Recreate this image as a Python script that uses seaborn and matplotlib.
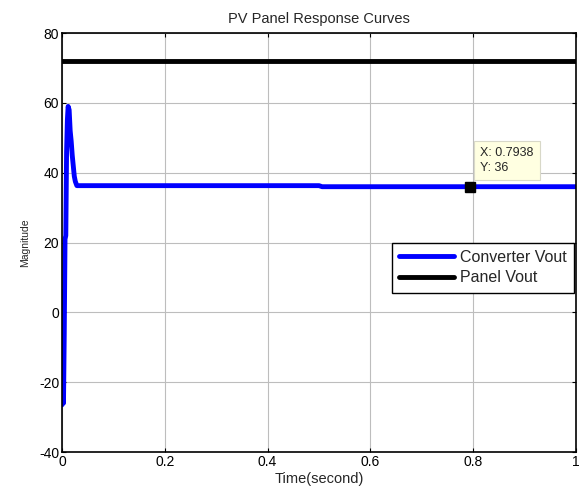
import numpy as np
import pandas as pd
import matplotlib
matplotlib.use("Agg")
import matplotlib.pyplot as plt
import seaborn as sns

# ---- data ----
conv_time = [0.0, 0.0015, 0.003, 0.0045, 0.006, 0.0075, 0.009, 0.0105, 0.012,
             0.014, 0.016, 0.018, 0.020, 0.022, 0.024, 0.026, 0.029, 0.5, 0.506, 1.0]
conv_vout = [-26.5, 6, -26, -6, 21, 22, 46, 55, 59,
             58, 52, 49, 45, 42, 39, 37.5, 36.3, 36.3, 36.0, 36.0]
panel_time = [0.0, 1.0]
panel_vout = [72.0, 72.0]
series_names = ["Converter Vout", "Panel Vout"]
datatip_x, datatip_y = 0.7938, 36
x_ticks = [0, 0.2, 0.4, 0.6, 0.8, 1]
x_ticklabels = ["0", "0.2", "0.4", "0.6", "0.8", "1"]
y_ticks = [-40, -20, 0, 20, 40, 60, 80]

df = pd.concat([
    pd.DataFrame({"Time": conv_time, "Value": conv_vout, "Series": series_names[0]}),
    pd.DataFrame({"Time": panel_time, "Value": panel_vout, "Series": series_names[1]}),
], ignore_index=True)

sns.set_theme(style="ticks")
plt.rcParams["font.family"] = ["Liberation Sans", "DejaVu Sans"]
plt.rcParams["axes.unicode_minus"] = False

fig = plt.figure(figsize=(5.79, 4.94), dpi=100)
ax = fig.add_axes([0.107, 0.085, 0.888, 0.848])

sns.lineplot(data=df, x="Time", y="Value", hue="Series",
             palette={series_names[0]: "#0000ff", series_names[1]: "#000000"},
             linewidth=3.5, ax=ax, sort=False, estimator=None, legend=True)

ax.set_xlim(0, 1)
ax.set_ylim(-40, 80)
ax.set_xticks(x_ticks)
ax.set_xticklabels(x_ticklabels)
ax.set_yticks(y_ticks)
ax.grid(True, color="#bdbdbd", linewidth=0.8, linestyle="-")
ax.set_axisbelow(True)
for s in ax.spines.values():
    s.set_visible(True)
    s.set_color("black")
    s.set_linewidth(1.2)
ax.tick_params(direction="in", top=True, right=True, length=3, width=0.8,
               labelsize=10, colors="black", pad=2)
ax.set_title("PV Panel Response Curves", fontsize=10.5, pad=7)
ax.set_xlabel("Time(second)", fontsize=10.5, labelpad=2)
ax.set_ylabel("Magnitude", fontsize=7.5, labelpad=6)

leg = ax.legend(loc="upper right", bbox_to_anchor=(0.996, 0.5), fontsize=11.5,
                frameon=True, fancybox=False, edgecolor="black", framealpha=1,
                handlelength=3.4, borderpad=0.45, labelspacing=0.35, handletextpad=0.4,
                borderaxespad=0)
leg.get_frame().set_linewidth(1.0)
for h in leg.get_lines():
    h.set_linewidth(3.5)

# data tip
ax.plot([datatip_x], [datatip_y], marker="s", color="black", markersize=7,
        linestyle="none", zorder=5)
ax.annotate(f"X: {datatip_x}\nY: {datatip_y}", xy=(datatip_x, datatip_y),
            xytext=(10, 13), textcoords="offset pixels", fontsize=9,
            ha="left", va="bottom", linespacing=1.3,
            bbox=dict(boxstyle="square,pad=0.5", facecolor="#ffffe1",
                      edgecolor="#d8d8c8", linewidth=0.8), zorder=6)

fig.savefig("out.png", dpi=100)
